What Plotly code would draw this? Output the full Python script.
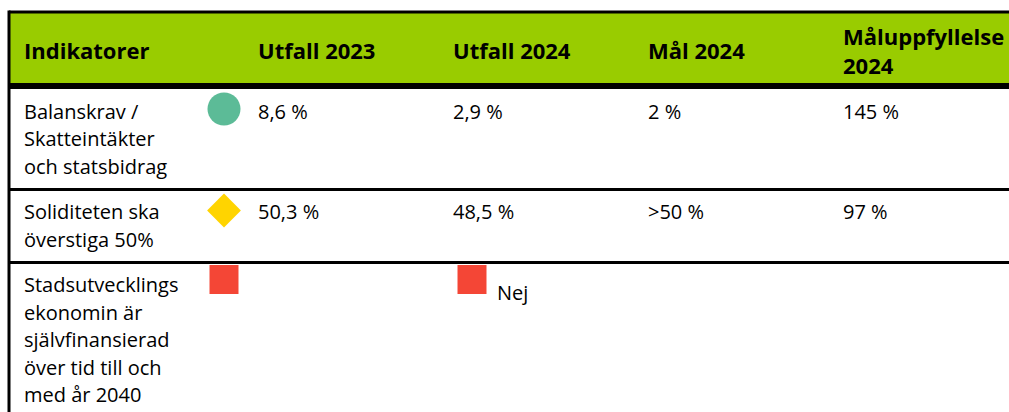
import plotly.graph_objects as go

# Table content
headers = ["Indikatorer", "Utfall 2023", "Utfall 2024", "Mål 2024", "Måluppfyllelse<br>2024"]
indicators = [
    ["Balanskrav /", "Skatteintäkter", "och statsbidrag"],
    ["Soliditeten ska", "överstiga 50%"],
    ["Stadsutvecklings", "ekonomin är", "självfinansierad", "över tid till och", "med år 2040"],
]
utfall_2023 = ["8,6 %", "50,3 %", ""]
utfall_2024 = ["2,9 %", "48,5 %", "Nej"]
mal_2024 = ["2 %", ">50 %", ""]
maluppfyllelse_2024 = ["145 %", "97 %", ""]
status_2023 = ["circle", "diamond", "square"]
status_2024 = [None, None, "square"]

STATUS_COLORS = {"circle": "#5cbb97", "diamond": "#ffd400", "square": "#f44636"}
STATUS_SIZES = {"circle": 33, "diamond": 26, "square": 29}

W, H = 1009, 412
FONT = "Open Sans"
FS = 20
HFS = 22
GREEN = "#99cc00"

col_x = [24, 258, 453, 648, 843]
icon_x = [224, 472]
table_left, table_top, header_bottom = 9, 12, 86
line_h = 27.5
row_pad = 18

fig = go.Figure()
shapes = []
annotations = []

# header band
shapes.append(dict(type="rect", xref="x", yref="y", x0=table_left, x1=W + 20,
                   y0=table_top, y1=header_bottom, fillcolor=GREEN, line=dict(width=0), layer="below"))
for cx, h in zip(col_x, headers):
    annotations.append(dict(x=cx - 2, y=(table_top + header_bottom) / 2 + 1, xref="x", yref="y",
                            text="<b>" + h + "</b>", showarrow=False, xanchor="left", yanchor="middle",
                            align="left", font=dict(family=FONT, size=HFS, color="black")))

# rows
row_tops = []
y = header_bottom + 3
for lines in indicators:
    row_tops.append(y)
    y += len(lines) * line_h + row_pad
row_bottoms = row_tops[1:] + [y]

for i, lines in enumerate(indicators):
    top = row_tops[i]
    first = top + 22
    for j, txt in enumerate(lines):
        annotations.append(dict(x=col_x[0] - 2, y=first + j * line_h, xref="x", yref="y", text=txt,
                                showarrow=False, xanchor="left", yanchor="middle",
                                font=dict(family=FONT, size=FS, color="black")))
    for cx, vals in zip(col_x[1:], [utfall_2023, utfall_2024, mal_2024, maluppfyllelse_2024]):
        v = vals[i]
        if not v:
            continue
        xx = cx
        yy = first
        if v == "Nej":
            xx, yy = icon_x[1] + 25, first + 8
        annotations.append(dict(x=xx - 2, y=yy, xref="x", yref="y", text=v, showarrow=False,
                                xanchor="left", yanchor="middle",
                                font=dict(family=FONT, size=FS, color="black")))
    for k, st in enumerate([status_2023[i], status_2024[i]]):
        if st is None:
            continue
        dy = -2 if st == "circle" else (-1 if st == "diamond" else -5)
        fig.add_trace(go.Scatter(
            x=[icon_x[k]], y=[first + dy], mode="markers",
            marker=dict(symbol=st, size=STATUS_SIZES[st], color=STATUS_COLORS[st], line=dict(width=0)),
            showlegend=False, hoverinfo="skip"))

# borders
shapes.append(dict(type="line", xref="x", yref="y", x0=table_left, x1=W + 20, y0=table_top, y1=table_top,
                   line=dict(color="black", width=3)))
shapes.append(dict(type="line", xref="x", yref="y", x0=table_left, x1=W + 20, y0=header_bottom, y1=header_bottom,
                   line=dict(color="black", width=6)))
for b in row_bottoms[:-1]:
    shapes.append(dict(type="line", xref="x", yref="y", x0=table_left, x1=W + 20, y0=b, y1=b,
                       line=dict(color="black", width=3)))
shapes.append(dict(type="line", xref="x", yref="y", x0=table_left, x1=table_left, y0=table_top - 1.5, y1=H + 20,
                   line=dict(color="black", width=3)))

fig.update_layout(
    width=W, height=H,
    margin=dict(l=0, r=0, t=0, b=0),
    paper_bgcolor="white", plot_bgcolor="white",
    xaxis=dict(range=[0, W], visible=False, fixedrange=True),
    yaxis=dict(range=[H, 0], visible=False, fixedrange=True),
    shapes=shapes, annotations=annotations,
)

# drop the default page margin so the figure fills the window exactly
fig.write_html("out.html", config={"displayModeBar": False},
               post_script="document.body.style.margin='0';document.body.style.overflow='hidden';")
